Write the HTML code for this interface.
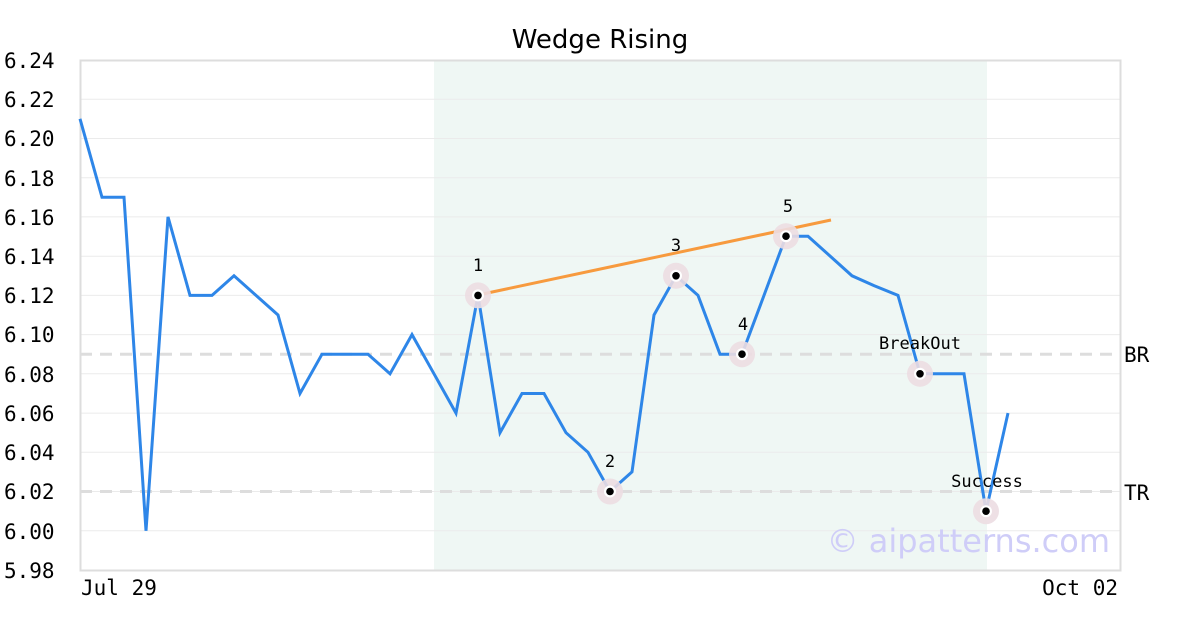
<!DOCTYPE html><html><head><style>body{margin:0;background:#fff}svg{display:block}</style></head><body>
<svg width="1200" height="630" xmlns="http://www.w3.org/2000/svg">
<rect x="434" y="60" width="553" height="510" fill="#eff7f4"/>
<g stroke="#ebebeb" stroke-width="1">
<line x1="80" x2="1120" y1="99.2" y2="99.2"/><line x1="80" x2="1120" y1="138.5" y2="138.5"/><line x1="80" x2="1120" y1="177.7" y2="177.7"/><line x1="80" x2="1120" y1="216.9" y2="216.9"/><line x1="80" x2="1120" y1="256.2" y2="256.2"/><line x1="80" x2="1120" y1="295.4" y2="295.4"/><line x1="80" x2="1120" y1="334.6" y2="334.6"/><line x1="80" x2="1120" y1="373.8" y2="373.8"/><line x1="80" x2="1120" y1="413.1" y2="413.1"/><line x1="80" x2="1120" y1="452.3" y2="452.3"/><line x1="80" x2="1120" y1="491.5" y2="491.5"/><line x1="80" x2="1120" y1="530.8" y2="530.8"/>
</g>
<g stroke="#ddd" stroke-width="3" stroke-dasharray="12,8"><line x1="80" x2="1120" y1="354.2" y2="354.2"/><line x1="80" x2="1120" y1="491.5" y2="491.5"/></g>
<rect x="80.5" y="60.5" width="1040" height="510" fill="none" stroke="#ddd" stroke-width="2"/>
<text x="1110" y="552" font-family="DejaVu Sans,sans-serif" font-size="32" fill="#cfcdf8" text-anchor="end">© aipatterns.com</text>
<polyline fill="none" stroke="#2e86e8" stroke-width="3" points="80,118.8 102,197.3 124,197.3 146,530.8 168,216.9 190,295.4 212,295.4 234,275.8 256,295.4 278,315 300,393.5 322,354.2 344,354.2 368,354.2 390,373.8 412,334.6 434,373.8 456,413.1 478,295.4 500,432.7 522,393.5 544,393.5 566,432.7 588,452.3 610,491.5 632,471.9 654,315 676,275.8 698,295.4 720,354.2 742,354.2 764,295.4 786,236.2 808,236.2 830,256 852,275.8 874,285.6 898,295.4 920,373.8 942,373.8 964,373.8 986,511.2 1008,413.1"/>
<line x1="478" y1="295" x2="831" y2="220" stroke="#f79a3e" stroke-width="3"/>
<g font-family="DejaVu Sans Mono,monospace" font-size="17" fill="#000" text-anchor="middle">
<g><circle cx="478" cy="295.4" r="13" fill="#ecdde2" opacity="0.9"/><circle cx="478" cy="295.4" r="6" fill="#fff"/><circle cx="478" cy="295.4" r="3.8" fill="#000"/><text x="478" y="271">1</text></g>
<g><circle cx="610" cy="491.5" r="13" fill="#ecdde2" opacity="0.9"/><circle cx="610" cy="491.5" r="6" fill="#fff"/><circle cx="610" cy="491.5" r="3.8" fill="#000"/><text x="610" y="467">2</text></g>
<g><circle cx="676" cy="275.8" r="13" fill="#ecdde2" opacity="0.9"/><circle cx="676" cy="275.8" r="6" fill="#fff"/><circle cx="676" cy="275.8" r="3.8" fill="#000"/><text x="676" y="251">3</text></g>
<g><circle cx="742" cy="354.2" r="13" fill="#ecdde2" opacity="0.9"/><circle cx="742" cy="354.2" r="6" fill="#fff"/><circle cx="742" cy="354.2" r="3.8" fill="#000"/><text x="743" y="330">4</text></g>
<g><circle cx="786" cy="236.2" r="13" fill="#ecdde2" opacity="0.9"/><circle cx="786" cy="236.2" r="6" fill="#fff"/><circle cx="786" cy="236.2" r="3.8" fill="#000"/><text x="788" y="212">5</text></g>
<g><circle cx="920" cy="373.8" r="13" fill="#ecdde2" opacity="0.9"/><circle cx="920" cy="373.8" r="6" fill="#fff"/><circle cx="920" cy="373.8" r="3.8" fill="#000"/><text x="920" y="349">BreakOut</text></g>
<g><circle cx="986" cy="511.2" r="13" fill="#ecdde2" opacity="0.9"/><circle cx="986" cy="511.2" r="6" fill="#fff"/><circle cx="986" cy="511.2" r="3.8" fill="#000"/><text x="987" y="487">Success</text></g>
</g>
<g font-family="DejaVu Sans Mono,monospace" font-size="21" fill="#000">
<text x="4" y="68">6.24</text><text x="4" y="107">6.22</text><text x="4" y="146">6.20</text><text x="4" y="186">6.18</text><text x="4" y="225">6.16</text><text x="4" y="264">6.14</text><text x="4" y="303">6.12</text><text x="4" y="342">6.10</text><text x="4" y="382">6.08</text><text x="4" y="421">6.06</text><text x="4" y="460">6.04</text><text x="4" y="499">6.02</text><text x="4" y="539">6.00</text><text x="4" y="578">5.98</text>
<text x="1124" y="362">BR</text><text x="1124" y="500">TR</text>
<text x="81" y="595">Jul 29</text><text x="1118" y="595" text-anchor="end">Oct 02</text>
</g>
<text x="600" y="48" font-family="DejaVu Sans,sans-serif" font-size="26" text-anchor="middle">Wedge Rising</text>
</svg></body></html>
